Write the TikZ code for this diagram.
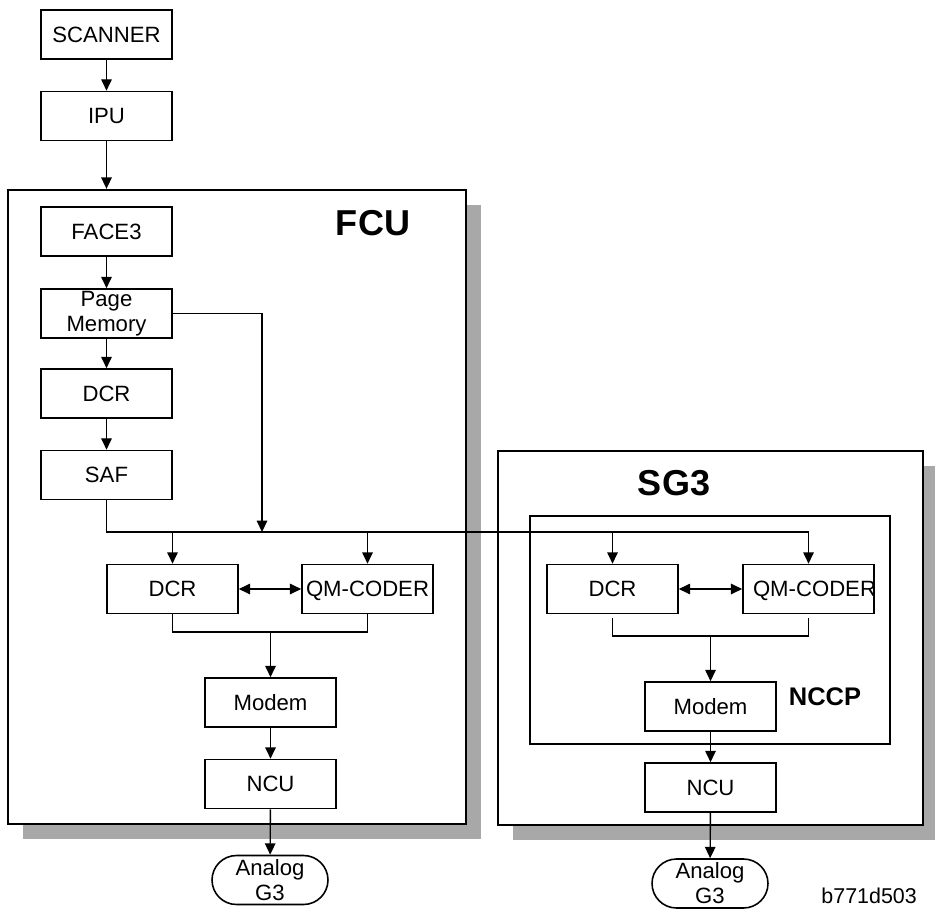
\documentclass[tikz,border=0pt]{standalone}
\usepackage{fontspec}
\setmainfont{Liberation Sans}
\usetikzlibrary{arrows.meta,positioning,shapes.misc,shadows}
\definecolor{shade}{HTML}{A8A8A8}
\tikzset{
  blk/.style={draw,line width=0.9pt,fill=white,inner sep=0pt,minimum width=2.62cm,minimum height=0.98cm,
    text height=9.2pt,text depth=0.6pt,font=\fontsize{12.6}{14.2}\selectfont},
  multi/.style={text height=,text depth=,align=center},
  term/.style={blk,multi,rounded rectangle,minimum width=2.32cm},
  unit/.style={draw,line width=1.4pt,fill=white,inner sep=0pt,
    drop shadow={shadow xshift=0.3cm,shadow yshift=-0.3cm,fill=shade,opacity=1}},
  subunit/.style={draw,line width=1pt,inner sep=0pt},
  title/.style={font=\fontsize{20.5}{24}\selectfont\bfseries},
  arr/.style={-{Triangle[length=6.5pt,width=6pt]},line width=0.8pt},
  dbl/.style={{Triangle[length=6.5pt,width=6pt]}-{Triangle[length=6.5pt,width=6pt]},line width=0.8pt},
  wire/.style={line width=0.8pt}
}
\begin{document}
\begin{tikzpicture}[x=0.02cm,y=-0.02cm]
\useasboundingbox (0,0) rectangle (935,908);
% units
\node[unit,minimum width=9.16cm,minimum height=12.68cm] (fcu) at (237,507) {};
\node[title] (fcutitle) at (373,223) {FCU};
\node[unit,minimum width=8.5cm,minimum height=7.48cm] (sg3) at (710.5,638) {};
\node[title] (sg3title) at (674,483) {SG3};
\node[subunit,minimum width=7.2cm,minimum height=4.56cm] (nccp) at (710,630) {};
\node[font=\fontsize{14.5}{16}\selectfont\bfseries] (nccptitle) at (825,697) {NCCP};
% blocks
\node[blk] (scan) at (106.5,34.5) {SCANNER};
\node[blk] (ipu) at (106.5,116) {IPU};
\node[blk] (face) at (106.5,231.5) {FACE3};
\node[blk,multi] (pmem) at (106.5,313.5) {Page\\Memory};
\node[blk] (dcr) at (106.5,393.5) {DCR};
\node[blk] (saf) at (106.5,475) {SAF};
\node[blk] (fdcr) at (172.5,589) {DCR};
\node[blk] (fqm) at (367.5,589) {QM-CODER};
\node[blk] (fmod) at (270.5,702.5) {Modem};
\node[blk] (fncu) at (270.5,784) {NCU};
\node[term] (fana) at (270,880) {Analog\\G3};
\node[blk] (sdcr) at (612.5,589) {DCR};
\node[blk] (sqm) at (808.5,589) {\hspace*{0.12cm}QM-CODER\hspace*{-0.12cm}};
\node[blk] (smod) at (710.5,706.5) {Modem};
\node[blk] (sncu) at (710.5,787.5) {NCU};
\node[term] (sana) at (710,883.5) {Analog\\G3};
\node[font=\fontsize{12.2}{14}\selectfont,anchor=east] (fig) at (923,896) {b771d503};
% junctions
\coordinate (bus) at (0,532);
\coordinate (tap) at (262,532);
\coordinate (fjoin) at (0,632);
\coordinate (sjoin) at (0,636);
% edges
\draw[arr] (scan) -- (ipu);
\draw[arr] (ipu) -- (ipu |- fcu.north);
\draw[arr] (face) -- (pmem);
\draw[arr] (pmem) -- (dcr);
\draw[arr] (dcr) -- (saf);
\draw[arr] (pmem.east) -| (tap);
\draw[arr] (saf) |- (bus -| sqm) -- (sqm);
\foreach \b in {fdcr,fqm,sdcr} {
  \draw[arr] (bus -| \b) -- (\b);
}
\draw[dbl] (fdcr) -- (fqm);
\draw[dbl] (sdcr) -- (sqm);
\draw[wire] (fdcr) |- (fjoin -| fmod) -| (fqm);
\draw[arr] (fjoin -| fmod) -- (fmod);
\draw[arr] (fmod) -- (fncu);
\draw[arr] (fncu) -- (fana);
\draw[wire,shorten <=0.08cm,shorten >=0.08cm] (sdcr) |- (sjoin -| smod) -| (sqm);
\draw[arr] (sjoin -| smod) -- (smod);
\draw[arr] (smod) -- (sncu);
\draw[arr] (sncu) -- (sana);
\end{tikzpicture}
\end{document}
